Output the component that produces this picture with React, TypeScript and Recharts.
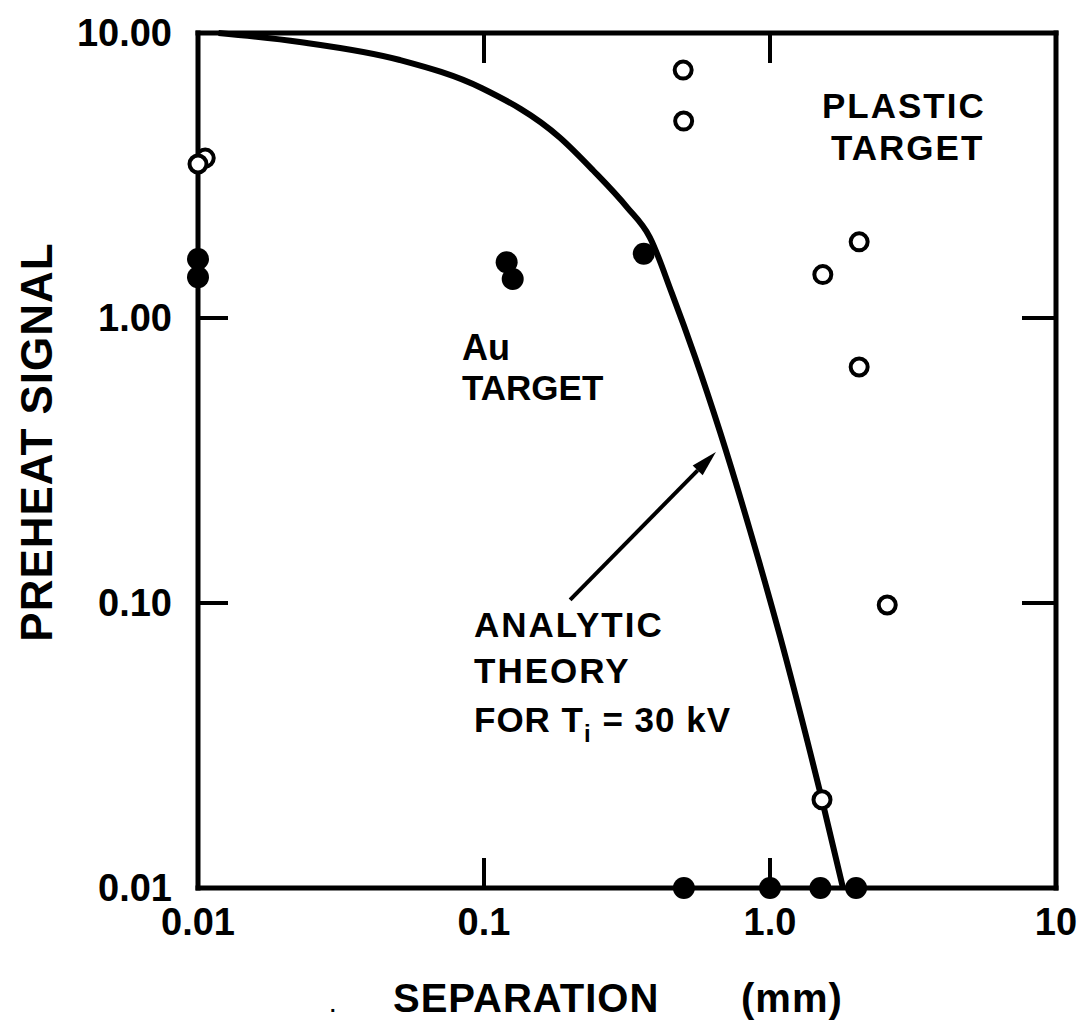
import { ComposedChart, Line, Scatter, XAxis, YAxis, ReferenceLine } from 'recharts'

const FONT = '"Liberation Sans", Arial, sans-serif'

const X_TICKS = [0.01, 0.1, 1, 10]
const X_TICK_LABELS = ['0.01', '0.1', '1.0', '10']
const Y_TICKS = [0.01, 0.1, 1, 10]
const Y_TICK_LABELS = ['0.01', '0.10', '1.00', '10.00']
// inner decade ticks hanging from the top edge (10 down to ~7.9)
const topTickA = [
  { x: 0.1, y: 9.98 },
  { x: 0.1, y: 7.9 },
]
const topTickB = [
  { x: 1, y: 9.98 },
  { x: 1, y: 7.9 },
]

// analytic theory for Ti = 30 kV
const theory = [
  { x: 0.0118, y: 10.0 },
  { x: 0.0227, y: 9.3 },
  { x: 0.0508, y: 8.04 },
  { x: 0.0984, y: 6.4 },
  { x: 0.184, y: 4.3 },
  { x: 0.2405, y: 3.3 },
  { x: 0.316, y: 2.45 },
  { x: 0.38, y: 1.92 },
  { x: 0.454, y: 1.22 },
  { x: 0.547, y: 0.73 },
  { x: 0.669, y: 0.398 },
  { x: 0.851, y: 0.18 },
  { x: 1.084, y: 0.0764 },
  { x: 1.38, y: 0.0301 },
  { x: 1.52, y: 0.0204 },
  { x: 1.8, y: 0.01 },
]

// plastic target (open circles)
const plastic = [
  { x: 0.0106, y: 3.64 },
  { x: 0.01, y: 3.47 },
  { x: 0.497, y: 7.41 },
  { x: 0.499, y: 4.91 },
  { x: 2.05, y: 1.85 },
  { x: 1.53, y: 1.42 },
  { x: 2.05, y: 0.673 },
  { x: 2.57, y: 0.0984 },
  { x: 1.52, y: 0.0204 },
]

// Au target (filled dots)
const gold = [
  { x: 0.01, y: 1.61 },
  { x: 0.01, y: 1.39 },
  { x: 0.12, y: 1.57 },
  { x: 0.126, y: 1.37 },
  { x: 0.362, y: 1.68 },
  { x: 0.5, y: 0.01 },
  { x: 1.0, y: 0.01 },
  { x: 1.5, y: 0.01 },
  { x: 2.0, y: 0.01 },
]

// pointer from the label to the curve
const arrow = [
  { x: 0.2, y: 0.1026 },
  { x: 0.647, y: 0.339 },
]

const labelFor = (ticks: number[], labels: string[]) => (v: number) => {
  const i = ticks.findIndex((t) => Math.abs(t - v) < 1e-9)
  return i >= 0 ? labels[i] : ''
}

const axisLine = { stroke: '#000', strokeWidth: 5, strokeLinecap: 'square' as const }
const tickLine = { stroke: '#000', strokeWidth: 4 }
const tickText = { fill: '#000', fontSize: 38, fontWeight: 700, fontFamily: FONT }
const Empty = () => <g />

const OpenDot = (p: any) => (
  <circle cx={p.cx} cy={p.cy} r={8.5} fill="#fff" stroke="#000" strokeWidth={4} />
)
const FilledDot = (p: any) => <circle cx={p.cx} cy={p.cy} r={11} fill="#000" />

const Arrow = (p: any) => {
  const { x1, y1, x2, y2 } = p
  const a = Math.atan2(y2 - y1, x2 - x1)
  const len = 26
  const w = 7
  const bx = x2 - len * Math.cos(a)
  const by = y2 - len * Math.sin(a)
  const nx = -Math.sin(a) * w
  const ny = Math.cos(a) * w
  return (
    <g>
      <line x1={x1} y1={y1} x2={bx} y2={by} stroke="#000" strokeWidth={4} />
      <polygon points={`${x2},${y2} ${bx + nx},${by + ny} ${bx - nx},${by - ny}`} fill="#000" />
    </g>
  )
}

const txt = { fontFamily: FONT, fontWeight: 700, fill: '#000' }

export default function App() {
  return (
    <div style={{ position: 'relative', width: 1078, height: 1016 }}>
      <ComposedChart width={1078} height={1016} margin={{ top: 0, right: 0, bottom: 0, left: 0 }}>
        <XAxis
          xAxisId={0}
          dataKey="x"
          type="number"
          scale="log"
          domain={[0.01, 10]}
          ticks={X_TICKS}
          interval={0}
          height={136}
          tickSize={-30}
          tickMargin={50}
          axisLine={axisLine}
          tickLine={tickLine}
          tick={tickText}
          tickFormatter={labelFor(X_TICKS, X_TICK_LABELS)}
        />
        <XAxis
          xAxisId="top"
          orientation="top"
          dataKey="x"
          type="number"
          scale="log"
          domain={[0.01, 10]}
          ticks={X_TICKS}
          interval={0}
          height={25}
          tickSize={-30}
          axisLine={axisLine}
          tickLine={tickLine}
          tick={Empty}
        />
        <YAxis
          yAxisId={0}
          dataKey="y"
          type="number"
          scale="log"
          domain={[0.01, 10]}
          ticks={Y_TICKS}
          interval={0}
          width={190}
          tickSize={-30}
          tickMargin={56}
          axisLine={axisLine}
          tickLine={tickLine}
          tick={tickText}
          tickFormatter={labelFor(Y_TICKS, Y_TICK_LABELS)}
        />
        <YAxis
          yAxisId="right"
          orientation="right"
          dataKey="y"
          type="number"
          scale="log"
          domain={[0.01, 10]}
          ticks={Y_TICKS}
          interval={0}
          width={30}
          tickSize={-34}
          axisLine={axisLine}
          tickLine={tickLine}
          tick={Empty}
        />
        <ReferenceLine segment={arrow} shape={Arrow} />
        <Line
          data={theory}
          dataKey="y"
          type="monotone"
          stroke="#000"
          strokeWidth={6}
          dot={false}
          activeDot={false}
          isAnimationActive={false}
        />
        <Line
          data={topTickA}
          dataKey="y"
          type="linear"
          stroke="#000"
          strokeWidth={4}
          dot={false}
          activeDot={false}
          legendType="none"
          isAnimationActive={false}
        />
        <Line
          data={topTickB}
          dataKey="y"
          type="linear"
          stroke="#000"
          strokeWidth={4}
          dot={false}
          activeDot={false}
          legendType="none"
          isAnimationActive={false}
        />
        {/* hidden copy so the top and right frame axes get ticks */}
        <Scatter
          data={plastic}
          dataKey="y"
          xAxisId="top"
          yAxisId="right"
          shape={Empty}
          legendType="none"
          isAnimationActive={false}
        />
        <Scatter data={plastic} dataKey="y" shape={OpenDot} isAnimationActive={false} />
        <Scatter data={gold} dataKey="y" shape={FilledDot} isAnimationActive={false} />
      </ComposedChart>
      <svg
        width={1078}
        height={1016}
        style={{ position: 'absolute', left: 0, top: 0, pointerEvents: 'none' }}
      >
        <text {...txt} fontSize={36} x={454} y={352}>Au</text>
        <text {...txt} fontSize={35} x={454} y={392}>TARGET</text>
        <text {...txt} fontSize={35} letterSpacing={2} x={814} y={110}>PLASTIC</text>
        <text {...txt} fontSize={35} letterSpacing={2} x={823} y={152}>TARGET</text>
        <text {...txt} fontSize={35} letterSpacing={2} x={466} y={629}>ANALYTIC</text>
        <text {...txt} fontSize={35} letterSpacing={2} x={466} y={675}>THEORY</text>
        <text {...txt} fontSize={35} letterSpacing={1} x={466} y={724}>
          FOR T<tspan fontSize={24} dy={10}>i</tspan>
          <tspan dy={-10}> = 30 kV</tspan>
        </text>
        <text {...txt} fontSize={20} x={322} y={1004}>.</text>
        <text {...txt} fontSize={40} letterSpacing={1} x={385} y={1004}>SEPARATION</text>
        <text {...txt} fontSize={40} letterSpacing={1} x={733} y={1004}>(mm)</text>
        <text {...txt} fontSize={44} letterSpacing={1} textAnchor="middle" transform="translate(44, 434) rotate(-90)">
          PREHEAT SIGNAL
        </text>
      </svg>
    </div>
  )
}
